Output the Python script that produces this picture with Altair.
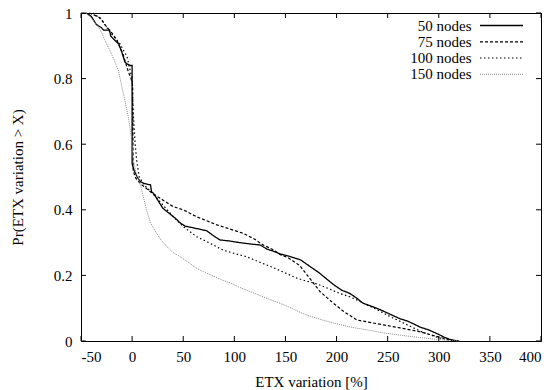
import altair as alt
import pandas as pd

# ---- data ----
x50 = [-45, -40, -35, -30, -28, -22, -21, -18, -13, -10, -7, -5, -2, 0, 0, 2, 5, 8, 12, 18, 19, 21, 25, 30, 36,
       42, 47, 52, 60, 73, 80, 86, 95, 105, 118, 125, 132, 140, 145, 155, 165, 175, 182, 190, 197, 205,
       213, 220, 226, 235, 243, 250, 262, 270, 282, 290, 300, 305, 310, 315, 320]
y50 = [1, 0.99, 0.965, 0.955, 0.948, 0.948, 0.93, 0.92, 0.905, 0.88, 0.85, 0.845, 0.84, 0.84, 0.54, 0.52, 0.50,
       0.486, 0.48, 0.476, 0.455, 0.45, 0.43, 0.405, 0.39, 0.375, 0.36, 0.35, 0.345, 0.336, 0.32, 0.308, 0.305,
       0.30, 0.295, 0.293, 0.28, 0.272, 0.265, 0.257, 0.247, 0.225, 0.21, 0.19, 0.172, 0.155, 0.145,
       0.13, 0.115, 0.105, 0.095, 0.085, 0.068, 0.06, 0.042, 0.034, 0.02, 0.012, 0.006, 0.002, 0]

x75 = [-42, -38, -31, -25, -20, -15, -8.6, -3.7, -1, 0.5, 1, 3, 5, 10, 20, 30, 40, 50, 63, 83, 95, 109, 120,
       128, 137, 145, 152, 164, 174, 184, 197, 207, 220, 246, 262, 282, 300, 310, 318]
y75 = [1, 0.995, 0.985, 0.958, 0.94, 0.918, 0.872, 0.821, 0.80, 0.78, 0.52, 0.50, 0.49, 0.475, 0.45, 0.43,
       0.41, 0.40, 0.379, 0.354, 0.342, 0.328, 0.31, 0.293, 0.28, 0.263, 0.255, 0.23, 0.19, 0.15, 0.115,
       0.09, 0.064, 0.049, 0.04, 0.028, 0.012, 0.004, 0]

x100 = [-38, -30, -22, -12, -5, -2, 0, 1, 2, 3, 4.5, 7, 12, 20, 30, 40, 50, 63, 75, 89, 100, 112, 125, 137,
        148, 160, 170, 181, 192, 203, 213, 230, 243, 252, 262, 272, 282, 292, 300, 310, 315]
y100 = [1, 0.979, 0.943, 0.907, 0.867, 0.826, 0.80, 0.70, 0.65, 0.60, 0.55, 0.50, 0.475, 0.45, 0.415, 0.38,
        0.349, 0.318, 0.30, 0.277, 0.267, 0.257, 0.24, 0.225, 0.21, 0.193, 0.183, 0.174, 0.16, 0.145, 0.135,
        0.11, 0.09, 0.075, 0.06, 0.045, 0.03, 0.018, 0.01, 0.003, 0]

x150 = [-45, -40, -35, -31, -27, -22, -18, -13.5, -8.6, -3.7, -0.4, 1.2, 4, 7.7, 11, 14, 18, 24, 29, 34, 40,
        47, 55, 63, 72, 80, 88, 96, 104, 112, 120, 128, 136, 143, 150, 158, 165, 175, 185, 197, 210, 220,
        230, 245, 262, 280, 295, 310, 320]
y150 = [1, 0.985, 0.965, 0.948, 0.92, 0.887, 0.86, 0.826, 0.755, 0.684, 0.613, 0.552, 0.51, 0.48, 0.44, 0.40,
        0.36, 0.328, 0.305, 0.288, 0.27, 0.257, 0.24, 0.222, 0.208, 0.197, 0.186, 0.177, 0.165, 0.155, 0.145,
        0.135, 0.125, 0.117, 0.108, 0.097, 0.086, 0.075, 0.065, 0.055, 0.045, 0.039, 0.034, 0.025, 0.018,
        0.011, 0.006, 0.002, 0]

series_names = ["50 nodes", "75 nodes", "100 nodes", "150 nodes"]
x_ticks = [-50, 0, 50, 100, 150, 200, 250, 300, 350, 400]
y_ticks = [0, 0.2, 0.4, 0.6, 0.8, 1]

# ---- styling ----
W, H = 460, 328
FONT = "Liberation Serif"
FS = 15
styles = [
    dict(color="black", dash=[1, 0], width=1.3),
    dict(color="black", dash=[3, 2], width=1.2),
    dict(color="black", dash=[1.5, 2.5], width=1.2),
    dict(color="#8a8a8a", dash=[1, 1], width=1.0),
]
xs = alt.Scale(domain=[-50, 400], nice=False, zero=False)
ys = alt.Scale(domain=[0, 1], nice=False, zero=False)

x_axis = alt.Axis(
    values=x_ticks, labelExpr="'' + datum.value", domain=False, ticks=False, tickSize=0,
    grid=False, labelPadding=8, labelFont=FONT, titleFont=FONT,
    title="ETX variation [%]", titleX=W / 2, titleY=40, titleBaseline="middle", titleAlign="center")
y_axis = alt.Axis(
    values=y_ticks, labelExpr="'' + datum.value", domain=False, ticks=False, tickSize=0,
    grid=False, labelPadding=9, labelFont=FONT, titleFont=FONT,
    title="Pr(ETX variation > X)", titleAngle=270, titleX=-64, titleY=H / 2, titleBaseline="middle",
    titleAlign="center")

all_x = [x50, x75, x100, x150]
all_y = [y50, y75, y100, y150]

layers = []
for name, xv, yv, st in zip(series_names, all_x, all_y, styles):
    df = pd.DataFrame({"x": xv, "y": yv, "order": list(range(len(xv)))})
    layers.append(alt.Chart(df).mark_line(
        color=st["color"], strokeDash=st["dash"], strokeWidth=st["width"], interpolate="linear"
    ).encode(
        x=alt.X("x:Q", scale=xs, axis=x_axis),
        y=alt.Y("y:Q", scale=ys, axis=y_axis),
        order="order:Q",
    ))

# ---- inward tick marks on all four sides ----
TL = 5
xt = pd.DataFrame({"x": x_ticks})
yt = pd.DataFrame({"y": y_ticks})
tick_x = alt.X("x:Q", scale=xs, axis=x_axis)
tick_y = alt.Y("y:Q", scale=ys, axis=y_axis)
layers.append(alt.Chart(xt).mark_rule(color="black", strokeWidth=1).encode(
    x=tick_x, y=alt.value(H), y2=alt.value(H - TL)))
layers.append(alt.Chart(xt).mark_rule(color="black", strokeWidth=1).encode(
    x=tick_x, y=alt.value(0), y2=alt.value(TL)))
layers.append(alt.Chart(yt).mark_rule(color="black", strokeWidth=1).encode(
    y=tick_y, x=alt.value(0), x2=alt.value(TL)))
layers.append(alt.Chart(yt).mark_rule(color="black", strokeWidth=1).encode(
    y=tick_y, x=alt.value(W), x2=alt.value(W - TL)))

# ---- legend (gnuplot style: label left, line sample right) ----
row_y = [12.5, 28.8, 45.0, 61.3]
for name, st, ry in zip(series_names, styles, row_y):
    layers.append(alt.Chart(pd.DataFrame({"t": [name]})).mark_text(
        align="right", baseline="middle", font=FONT, fontSize=FS, color="black"
    ).encode(x=alt.value(390.5), y=alt.value(ry), text="t:N"))
    layers.append(alt.Chart(pd.DataFrame({"t": [name]})).mark_rule(
        color=st["color"], strokeDash=st["dash"], strokeWidth=st["width"]
    ).encode(x=alt.value(399), x2=alt.value(442), y=alt.value(ry)))

chart = alt.layer(*layers).properties(
    width=W, height=H,
    autosize=alt.AutoSizeParams(type="none"),
    padding={"left": 81, "top": 13, "right": 16, "bottom": 49},
    background="white",
).configure_view(
    stroke="black", strokeWidth=1
).configure_axis(
    labelFont=FONT, labelFontSize=FS, labelColor="black",
    titleFont=FONT, titleFontSize=FS, titleFontWeight="normal", titleColor="black",
).configure_text(font=FONT)

chart.save("out.html", embed_options={"renderer": "svg", "actions": False})
